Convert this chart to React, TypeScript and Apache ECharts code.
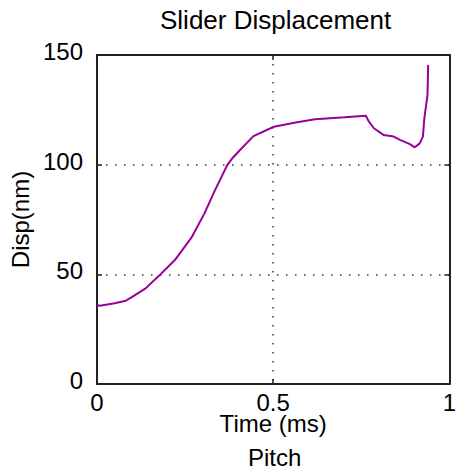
import React, { useEffect, useRef } from "react";
import * as echarts from "echarts";

const timeMs = [0, 0.008, 0.05, 0.082, 0.101, 0.138, 0.175, 0.221, 0.268, 0.305, 0.333, 0.37, 0.384, 0.406, 0.444, 0.502, 0.564, 0.619, 0.703, 0.763, 0.772, 0.786, 0.814, 0.842, 0.86, 0.888, 0.902, 0.916, 0.925, 0.929, 0.938, 0.94];
const dispNm = [36, 35.7, 36.8, 38, 39.8, 43.6, 49.2, 56.5, 66.7, 77.8, 87.7, 99.9, 102.9, 106.7, 113, 117.3, 119.2, 120.7, 121.6, 122.3, 119.6, 116.6, 113.5, 112.8, 111.3, 109.4, 107.9, 109.7, 112.8, 121, 131.7, 145.5];

const FONT = "Liberation Sans";
const AXIS_COLOR = "#222";

export default function App() {
  const ref = useRef<HTMLDivElement>(null);
  useEffect(() => {
    if (!ref.current) return;
    const chart = echarts.init(ref.current, undefined, { renderer: "svg" });
    const data = timeMs.map((t, i) => [t, dispNm[i]]);
    const axisLine = { show: true, onZero: false, lineStyle: { color: AXIS_COLOR, width: 2 } };
    const tick = { show: true, inside: true, length: 5, lineStyle: { color: AXIS_COLOR, width: 1.5 } };
    const split = { show: true, lineStyle: { color: "#333", width: 1.5, type: [1.5, 7.5] } };
    chart.setOption({
      animation: false,
      backgroundColor: "#fff",
      title: {
        text: "Slider Displacement",
        left: 160,
        top: 7,
        padding: 0,
        textStyle: { fontFamily: FONT, fontSize: 26, fontWeight: "normal", color: "#000" },
      },
      grid: { left: 97, top: 55, width: 359, height: 329, containLabel: false },
      xAxis: [
        {
          type: "value",
          min: 0,
          max: 1,
          interval: 0.5,
          position: "bottom",
          name: "Time (ms)",
          nameLocation: "middle",
          nameGap: 27,
          nameMoveOverlap: false,
          nameTextStyle: { fontFamily: FONT, fontSize: 24, color: "#000" },
          axisLine,
          axisTick: tick,
          splitLine: split,
          axisLabel: { fontFamily: FONT, fontSize: 24, color: "#000", margin: 6, showMinLabel: true, showMaxLabel: true },
        },
        {
          type: "value",
          min: 0,
          max: 1,
          interval: 0.5,
          position: "top",
          axisLine,
          axisTick: tick,
          splitLine: { show: false },
          axisLabel: { show: false },
        },
      ],
      yAxis: [
        {
          type: "value",
          min: 0,
          max: 150,
          interval: 50,
          position: "left",
          name: "Disp(nm)",
          nameLocation: "middle",
          nameGap: 58,
          nameRotate: 90,
          nameTextStyle: { fontFamily: FONT, fontSize: 24, color: "#000" },
          axisLine,
          axisTick: tick,
          splitLine: split,
          axisLabel: {
            margin: 14,
            formatter: "{a|{value}}",
            rich: { a: { fontFamily: FONT, fontSize: 24, color: "#000", padding: [0, 0, 7, 0] } },
          },
        },
        {
          type: "value",
          min: 0,
          max: 150,
          interval: 50,
          position: "right",
          axisLine,
          axisTick: tick,
          splitLine: { show: false },
          axisLabel: { show: false },
        },
      ],
      graphic: [
        {
          type: "text",
          left: 248,
          top: 445,
          style: { text: "Pitch", font: `24px "${FONT}"`, fill: "#000" },
        },
      ],
      series: [
        {
          type: "line",
          data,
          showSymbol: false,
          symbol: "none",
          lineStyle: { color: "#990099", width: 2 },
          z: 3,
        },
      ],
    });
    return () => chart.dispose();
  }, []);
  return <div ref={ref} style={{ position: "fixed", left: 0, top: 0, width: 459, height: 471 }} />;
}
